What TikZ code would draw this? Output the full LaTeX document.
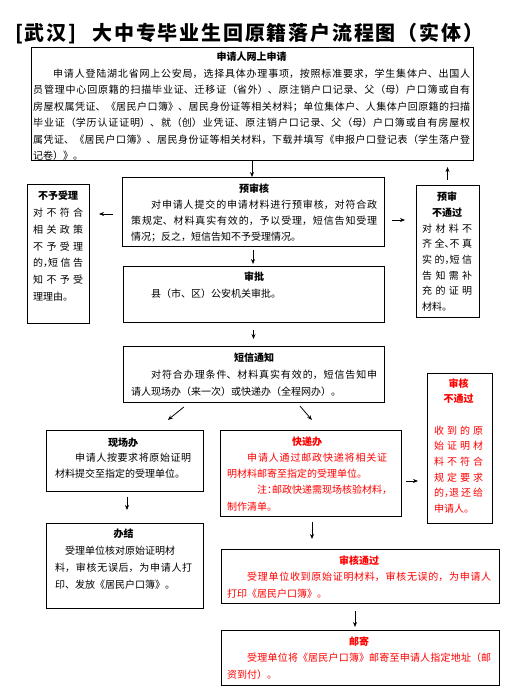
\documentclass[tikz,border=0pt]{standalone}
\usepackage{fontspec}
\setmainfont{Noto Sans CJK SC}
\usetikzlibrary{arrows.meta,calc}
\XeTeXlinebreaklocale "zh"
\XeTeXlinebreakskip=0pt plus 6pt minus 0.5pt
\XeTeXlinebreakpenalty=10000
\definecolor{rd}{HTML}{FF0000}
\newcommand\hcm{，\kern-0.5em}
\newcommand\hdn{、\kern-0.5em}
\newcommand\hcl{：\kern-0.5em}
\newcommand\ttl[1]{{\centering\rule{0pt}{9.5pt}\bfseries #1\par}}
\begin{document}
\begin{tikzpicture}[x=1pt,y=-1pt,
  frame/.style={draw, line width=0.8pt, anchor=north west, inner sep=0pt, outer sep=0pt},
  txt/.style={anchor=north west, inner sep=0pt, align=justify},
  arr/.style={line width=0.8pt, -{Stealth[length=5pt,width=4pt]}}]
\useasboundingbox[fill=white] (0,0) rectangle (507,700);
% title
\node[anchor=base west, inner sep=0pt, font=\fontsize{20}{24}\selectfont\bfseries] (title) at (15,40.5) {\addfontfeatures{LetterSpace=9}[武汉]\hspace{16pt}大中专毕业生回原籍落户流程图（实体）};
% frames
\node[frame, minimum width=442pt, minimum height=113pt] (b1) at (31,47) {};
\node[frame, minimum width=262pt, minimum height=69pt] (ys) at (122,177) {};
\node[frame, minimum width=62pt, minimum height=139pt] (bsl) at (27,184) {};
\node[frame, minimum width=63pt, minimum height=132pt] (ybt) at (416,185) {};
\node[frame, minimum width=261pt, minimum height=56pt] (sp) at (123,266) {};
\node[frame, minimum width=261pt, minimum height=56pt] (dx) at (123,346) {};
\node[frame, minimum width=157pt, minimum height=61pt] (xc) at (46,430) {};
\node[frame, minimum width=157pt, minimum height=85pt] (bj) at (46,523) {};
\node[frame, minimum width=181pt, minimum height=86pt] (kd) at (220,430) {};
\node[frame, minimum width=65pt, minimum height=150pt] (hbt) at (427,373) {};
\node[frame, minimum width=278pt, minimum height=54pt] (ht) at (221,549) {};
\node[frame, minimum width=278pt, minimum height=55pt] (yj) at (221,630) {};
% texts
\node[txt, text width=437pt, font=\fontsize{10}{16.5}\selectfont] (t1) at (33,51.3) {\ttl{申请人网上申请}\hspace*{2em}申请人登陆湖北省网上公安局，选择具体办理事项，按照标准要求，学生集体户、出国人\linebreak 员管理中心回原籍的扫描毕业证、迁移证（省外）、原注销户口记录、父（母）户口簿或自有\linebreak 房屋权属凭证、《居民户口簿》、居民身份证等相关材料；单位集体户、人集体户回原籍的扫描\linebreak 毕业证（学历认证证明）、就（创）业凭证、原注销户口记录、父（母）户口簿或自有房屋权\linebreak 属凭证、《居民户口簿》、居民身份证等相关材料，下载并填写《申报户口登记表（学生落户登\linebreak 记卷）》。};
\node[txt, text width=246pt, font=\fontsize{10}{16}\selectfont] (t2) at (131,183.3) {\ttl{预审核}\hspace*{2em}对申请人提交的申请材料进行预审核，对符合政\linebreak 策规定、材料真实有效的，予以受理，短信告知受理\linebreak 情况；反之，短信告知不予受理情况。};
\node[txt, text width=50pt, font=\fontsize{10}{16.7}\selectfont] (t3) at (33,190.3) {\ttl{不予受理}对不符合\linebreak 相关政策\linebreak 不予受理\linebreak 的\hcm 短信告\linebreak 知不予受\linebreak 理理由。};
\node[txt, text width=50pt, font=\fontsize{10}{15.6}\selectfont] (t4) at (422,191.3) {\ttl{预审}\ttl{不通过}对材料不\linebreak 齐全\hdn 不真\linebreak 实的\hcm 短信\linebreak 告知需补\linebreak 充的证明\linebreak 材料。};
\node[txt, text width=246pt, font=\fontsize{10}{17}\selectfont] (t5) at (131,270.3) {\ttl{审批}\hspace*{2em}县（市、区）公安机关审批。};
\node[txt, text width=246pt, font=\fontsize{10}{17}\selectfont] (t6) at (131,351.3) {\ttl{短信通知}\hspace*{2em}对符合办理条件、材料真实有效的，短信告知申\linebreak 请人现场办（来一次）或快递办（全程网办）。};
\node[txt, text width=136pt, font=\fontsize{10}{15.5}\selectfont] (t7) at (55,436.3) {\ttl{现场办}\hspace*{2em}申请人按要求将原始证明\linebreak 材料提交至指定的受理单位。};
\node[txt, text width=137pt, font=\fontsize{10}{17}\selectfont] (t8) at (55,527.3) {\ttl{办结}\hspace*{1em}受理单位核对原始证明材\hfil\break 料，审核无误后，为申请人打\linebreak 印、发放《居民户口簿》。};
\node[txt, text width=160pt, text=rd, font=\fontsize{10}{16.25}\selectfont] (t9) at (227,435.3) {\ttl{快递办}\hspace*{2em}申请人通过邮政快递将相关证\linebreak 明材料邮寄至指定的受理单位。\hfil\break \hspace*{3em}注\hcl 邮政快递需现场核验材料\hcm\linebreak 制作清单。};
\node[txt, text width=49pt, text=rd, font=\fontsize{10}{15.6}\selectfont] (t10) at (434,377.3) {\ttl{审核}\ttl{不通过}\vskip 16pt 收到的原\linebreak 始证明材\linebreak 料不符合\linebreak 规定要求\linebreak 的\hcm 退还给\linebreak 申请人。};
\node[txt, text width=264pt, text=rd, font=\fontsize{10}{16.5}\selectfont] (t11) at (227,554.3) {\ttl{审核通过}\hspace*{2em}受理单位收到原始证明材料，审核无误的，为申请人\linebreak 打印《居民户口簿》。};
\node[txt, text width=264pt, text=rd, font=\fontsize{10}{16.5}\selectfont] (t12) at (227,635.3) {\ttl{邮寄}\hspace*{2em}受理单位将《居民户口簿》邮寄至申请人指定地址（邮\linebreak 资到付）。};
% connectors
\draw[arr] (b1.south) -- (b1.south |- ys.north);
\draw[arr, shorten <=5pt, shorten >=7pt] (ybt.north) -- (ybt.north |- b1.south);
\draw[arr, shorten <=9pt, shorten >=10pt] ($(ys.west)+(0,2.5)$) -- ($(ys.west -| bsl.east)+(0,2.5)$);
\draw[arr, shorten <=8pt, shorten >=11pt] ($(ys.east)+(0,8.5)$) -- ($(ys.east -| ybt.west)+(0,8.5)$);
\draw[arr, shorten <=4pt, shorten >=2pt] (ys.south) -- (ys.south |- sp.north);
\draw[arr, shorten <=8pt, shorten >=7pt] (sp.south) -- (sp.south |- dx.north);
\draw[arr, shorten <=7.9pt, shorten >=15.9pt] ($(dx.south)+(-63.5,0)$) -- ($(xc.north)+(31,0)$);
\draw[arr, shorten <=5.3pt, shorten >=13.2pt] ($(dx.south)+(43,0)$) -- ($(kd.north)+(10,0)$);
\draw[arr, shorten <=6pt, shorten >=13pt] ($(xc.south)+(2.5,0)$) -- ($(xc.south |- bj.north)+(2.5,0)$);
\draw[arr, shorten <=5pt, shorten >=9pt] ($(kd.east)+(0,8)$) -- ($(kd.east -| hbt.west)+(0,8)$);
\draw[arr, shorten <=6pt, shorten >=10pt] ($(kd.south)+(1.5,0)$) -- ($(kd.south |- ht.north)+(1.5,0)$);
\draw[arr, shorten <=8pt, shorten >=3pt] ($(ht.south)+(-5,0)$) -- ($(ht.south |- yj.north)+(-5,0)$);
\end{tikzpicture}
\end{document}
